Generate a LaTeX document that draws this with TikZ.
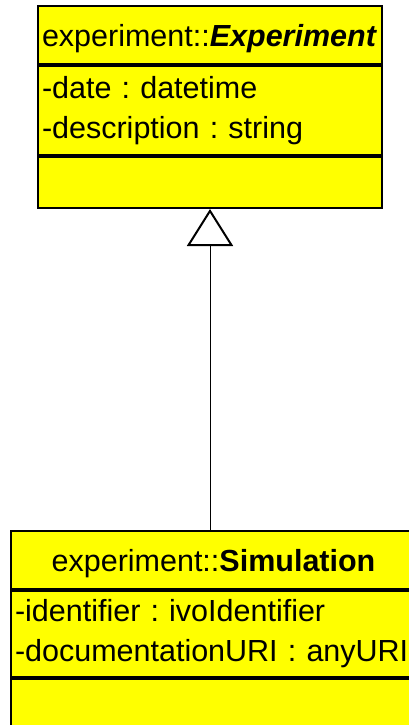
\documentclass[tikz,border=0pt]{standalone}
\usepackage{fontspec}
\setmainfont{Liberation Sans}
\usetikzlibrary{arrows.meta,positioning}
\definecolor{umlyellow}{RGB}{255,255,0}

\begin{document}
\frenchspacing
\begin{tikzpicture}[x=1pt,y=-1pt,
  part/.style={draw,line width=2pt,fill=umlyellow,anchor=north west,inner xsep=4pt,inner ysep=0pt,
    font=\fontsize{30.5}{40}\selectfont,align=left},
  head/.style={part,text depth=0pt,minimum height=58pt}]
  \useasboundingbox (0,0) rectangle (409,725);
  \clip (0,0) rectangle (409,725);
  \node[head,text width=336pt] (exphead) at (37,5) {experiment::\textbf{\textit{Experiment}}};
  \node[part,text width=336pt,minimum height=89pt] (expattr) at (exphead.south west) {-date : datetime\\-description : string};
  \node[part,text width=336pt,minimum height=51pt] (expops) at (expattr.south west) {};
  \node[head,text width=397pt,align=center] (simhead) at (10,530) {experiment::\textbf{Simulation}};
  \node[part,text width=397pt,minimum height=86pt] (simattr) at (simhead.south west) {-identifier : ivoIdentifier\\-documentationURI : anyURI};
  \node[part,text width=397pt,minimum height=70pt] (simops) at (simattr.south west) {};
  \draw[line width=1pt,-{Triangle[open,length=37pt,width=46pt,line width=2pt]}] (simhead.north -| expops.south) -- (expops.south);
\end{tikzpicture}
\end{document}
